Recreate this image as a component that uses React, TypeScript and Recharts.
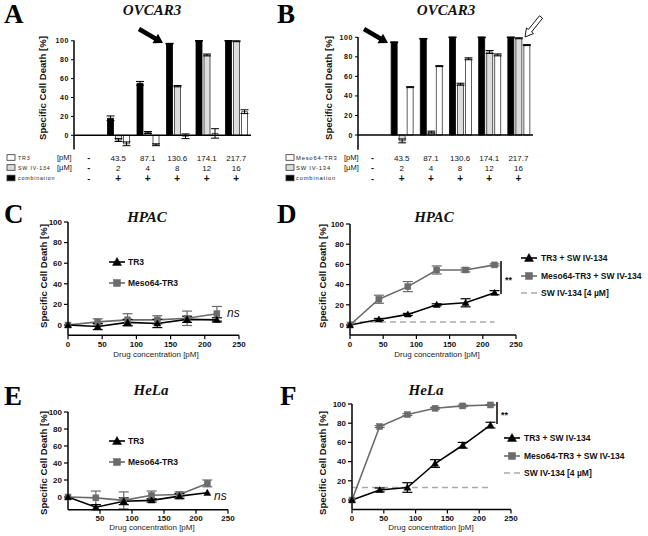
import React from 'react';
import { BarChart, Bar, LineChart, Line, XAxis, YAxis, ErrorBar, ReferenceLine } from 'recharts';

const SANS = '"Liberation Sans", Arial, Helvetica, sans-serif';
const SERIF = '"Liberation Serif", "Times New Roman", serif';

// ---- Panels A/B (bar charts) ----
const doseLabels = ['-', '43.5', '87.1', '130.6', '174.1', '217.7'];
const swDoseLabels = ['-', '2', '4', '8', '12', '16'];
const comboLabels = ['-', '+', '+', '+', '+', '+'];

const aCombination = [0, 18, 55, 97, 100, 100];
const aCombinationErr = [0, 2.5, 2, 0.3, 0.3, 0.3];
const aSW = [0, -5, 3, 52, 85, 99.5];
const aSWErr = [0, 1.5, 1, 0.7, 1, 0.5];
const aTR3 = [0, -9, -10, -1, 2, 25];
const aTR3Err = [0, 2, 1, 2.5, 5, 2];

const bCombination = [0, 95, 98.5, 100, 100, 100];
const bCombinationErr = [0, 0.3, 0.3, 0.3, 0.3, 0.3];
const bSW = [0, -6, 3, 52, 85, 99];
const bSWErr = [0, 2, 1, 1, 1.5, 0.5];
const bMeso = [0, 49, 70.5, 78, 82, 92];
const bMesoErr = [0, 0.5, 0.5, 1, 1, 0.5];

// ---- Panels C-F (line charts) ----
const conc = [0, 43.5, 87.1, 130.6, 174.1, 217.7];
const xTicksFull = [0, 50, 100, 150, 200, 250];
const xTicksNoZero = [50, 100, 150, 200, 250];
const yTicks = [0, 20, 40, 60, 80, 100];

const cTR3 = [0, -1.5, 2.5, 1.5, 5.5, 5];
const cTR3Err = [0, 3, 3, 4, 3, 2];
const cMeso = [0, 3, 5, 5, 6.5, 11];
const cMesoErr = [0, 3, 6, 4, 7, 7];

const dTR3SW = [0, 5.5, 10.5, 20, 22, 32];
const dTR3SWErr = [0, 1, 1, 1, 4, 2];
const dMesoSW = [0, 25.5, 38, 54.5, 54.5, 59.5];
const dMesoSWErr = [0, 4, 5, 4, 2, 1];
const dSWOnly = [3, 3, 3, 3, 3, 3];

const eTR3 = [0, -12, -5, -4, 1, 5];
const eTR3Err = [0, 3, 4, 2, 3, 0];
const eMeso = [0, -1, -4, 2, 3, 16];
const eMesoErr = [0, 8, 10, 5, 3, 4];

const fTR3SW = [0, 10.5, 13, 38, 57, 78];
const fTR3SWErr = [0, 2, 5, 4, 3, 3];
const fMesoSW = [0, 76.5, 89, 95.5, 98, 99];
const fMesoSWErr = [0, 1, 1, 1, 0.8, 0.5];
const fSWOnly = [13, 13, 13, 13, 13, 13];

const GREY = '#6b6b6b';

function tableTick(rows: number[], fs: number) {
  return (props: any) => {
    const { x, payload } = props;
    const i = doseLabels.indexOf(payload.value);
    const dashStyle = i === 0 ? { fontSize: 9, fontWeight: 'bold' as const } : { fontSize: fs, fontWeight: 'normal' as const };
    return (
      <g>
        <text x={x} y={rows[0]} textAnchor="middle" {...dashStyle} fill="#111" fontFamily={SANS}>{doseLabels[i]}</text>
        <text x={x} y={rows[1]} textAnchor="middle" {...dashStyle} fill="#111" fontFamily={SANS}>{swDoseLabels[i]}</text>
        <text x={x} y={rows[2]} textAnchor="middle" fontSize={i === 0 ? 9 : 10} fontWeight="bold" fill="#111" fontFamily={SANS}>{comboLabels[i]}</text>
      </g>
    );
  };
}

function BarPanel(p: any) {
  const data = doseLabels.map((d, i) => ({
    dose: d,
    comb: p.comb[i], combErr: p.combErr[i],
    sw: p.sw[i], swErr: p.swErr[i],
    single: p.single[i], singleErr: p.singleErr[i],
  }));
  return (
    <div style={{ position: 'absolute', left: p.left, top: 0 }}>
      <BarChart width={p.width} height={190} data={data}
        margin={{ top: p.plotTop, right: p.left + p.width - p.plotRight, bottom: 0, left: 0 }} barGap={2}>
        <XAxis dataKey="dose" height={190 - p.plotBottom} axisLine={false} tickLine={false}
          tick={tableTick(p.rows, p.fs)} interval={0} />
        <YAxis type="number" domain={[-15, 100]} ticks={yTicks} width={p.plotLeft - p.left}
          axisLine={{ stroke: '#000', strokeWidth: 1.5 }} tickLine={{ stroke: '#000', strokeWidth: 1 }} tickSize={3}
          tick={{ fontSize: 7, fontWeight: 'bold', fill: '#111', fontFamily: SANS, letterSpacing: 0.6 }} interval={0} />
        <Bar dataKey="comb" fill="#000" stroke="#000" strokeWidth={0.8} barSize={6} isAnimationActive={false}>
          <ErrorBar dataKey="combErr" width={4} stroke="#000" strokeWidth={1} />
        </Bar>
        <Bar dataKey="sw" fill="#dcdcdc" stroke="#333" strokeWidth={0.8} barSize={6} isAnimationActive={false}>
          <ErrorBar dataKey="swErr" width={4} stroke="#000" strokeWidth={1} />
        </Bar>
        <Bar dataKey="single" fill="#fff" stroke="#333" strokeWidth={0.8} barSize={6} isAnimationActive={false}>
          <ErrorBar dataKey="singleErr" width={4} stroke="#000" strokeWidth={1} />
        </Bar>
        <ReferenceLine y={0} stroke="#000" strokeWidth={1.5} />
      </BarChart>
    </div>
  );
}

const TriDot = ({ cx, cy, color, s = 3.5 }: any) => (
  cx == null || cy == null ? <g /> :
  <path d={`M${cx},${cy - s}L${cx + s},${cy + s * 0.75}L${cx - s},${cy + s * 0.75}Z`} fill={color} stroke={color} strokeWidth={0.5} />
);
const SqDot = ({ cx, cy, color, s = 3 }: any) => (
  cx == null || cy == null ? <g /> :
  <rect x={cx - s} y={cy - s} width={2 * s} height={2 * s} fill={color} stroke={color} strokeWidth={0.5} />
);

function LinePanel(p: any) {
  const data = conc.map((c, i) => {
    const row: any = { x: c };
    p.series.forEach((s: any) => {
      row[s.key] = s.values[i];
      if (s.errs) row[s.key + 'Err'] = s.errs[i];
    });
    return row;
  });
  const margin = { top: p.plot.top - p.box.top, right: p.box.left + p.box.width - p.plot.right, bottom: 0, left: 0 };
  return (
    <div style={{ position: 'absolute', left: p.box.left, top: p.box.top }}>
      <LineChart width={p.box.width} height={p.box.height} data={data} margin={margin}>
        <XAxis dataKey="x" type="number" domain={[0, 250]} ticks={p.xTicks} interval={0}
          height={p.box.top + p.box.height - p.plot.bottom}
          axisLine={{ stroke: '#000', strokeWidth: 1.5 }} tickLine={{ stroke: '#000', strokeWidth: 1.2 }} tickSize={4}
          tick={{ fontSize: 8, fontWeight: 'bold', fill: '#111', fontFamily: SANS }} />
        <YAxis type="number" domain={[p.yMin, 100]} ticks={yTicks} interval={0} width={p.plot.left - p.box.left}
          axisLine={{ stroke: '#000', strokeWidth: 1.5 }} tickLine={{ stroke: '#000', strokeWidth: 1.2 }} tickSize={4}
          tick={{ fontSize: 8, fontWeight: 'bold', fill: '#111', fontFamily: SANS }} />
        {p.series.map((s: any) => (
          <Line key={s.key} dataKey={s.key} type="linear" stroke={s.color} strokeWidth={1.6}
            strokeDasharray={s.dashed ? '6 4' : undefined} isAnimationActive={false}
            dot={s.marker === 'tri' ? (d: any) => <TriDot key={d.index} cx={d.cx} cy={d.cy} color={s.color} />
              : s.marker === 'sq' ? (d: any) => <SqDot key={d.index} cx={d.cx} cy={d.cy} color={s.color} />
              : false}
            activeDot={false}>
            {s.errs ? <ErrorBar dataKey={s.key + 'Err'} width={5} stroke={s.color} strokeWidth={1.2} direction="y" /> : null}
          </Line>
        ))}
      </LineChart>
    </div>
  );
}

function arrowPoints(tx: number, ty: number, px: number, py: number, sw: number, hw: number, hl: number) {
  const len = Math.hypot(px - tx, py - ty);
  const dx = (px - tx) / len, dy = (py - ty) / len;
  const nx = -dy, ny = dx;
  const hx = px - dx * hl, hy = py - dy * hl;
  const pts = [
    [tx + nx * sw, ty + ny * sw], [hx + nx * sw, hy + ny * sw], [hx + nx * hw, hy + ny * hw], [px, py],
    [hx - nx * hw, hy - ny * hw], [hx - nx * sw, hy - ny * sw], [tx - nx * sw, ty - ny * sw],
  ];
  return pts.map((q) => q.join(',')).join(' ');
}

const tTR3 = 'TR3';
const tMeso = 'Meso64-TR3';
const tTR3SW = 'TR3 + SW IV-134';
const tMesoSW = 'Meso64-TR3 + SW IV-134';
const tSW = 'SW IV-134 [4 µM]';

function LegendItem({ x, y, tx, label, kind }: any) {
  return (
    <g>
      {kind === 'dash' ? (
        <line x1={x - 8} x2={x + 8} y1={y} y2={y} stroke="#aaa" strokeWidth={1.6} strokeDasharray="6 4" />
      ) : (
        <line x1={x - 8} x2={x + 8} y1={y} y2={y} stroke={kind === 'tri' ? '#000' : GREY} strokeWidth={1.6} />
      )}
      {kind === 'tri' ? <TriDot cx={x} cy={y} color="#000" s={4.5} /> : null}
      {kind === 'sq' ? <SqDot cx={x} cy={y} color={GREY} s={3.5} /> : null}
      <text x={tx} y={y + 3} fontSize={8.5} fontWeight="bold" fill="#111" fontFamily={SANS}>{label}</text>
    </g>
  );
}

function RowLabels({ bx, tx, ux, names, fs }: any) {
  const ys = [157.5, 167.5, 178];
  const fills = ['#fff', '#dcdcdc', '#000'];
  const units = ['[pM]', '[µM]', ''];
  return (
    <g>
      {ys.map((y, i) => (
        <g key={i}>
          <rect x={bx} y={y - 2.8} width={8} height={5.6} fill={fills[i]} stroke="#333" strokeWidth={0.8} />
          <text x={tx} y={y + 2} fontSize={fs} letterSpacing={0.8} fill="#222" fontFamily={SANS}>{names[i]}</text>
          {units[i] ? <text x={ux} y={y + 2.6} fontSize={7.5} fill="#111" fontFamily={SANS}>{units[i]}</text> : null}
        </g>
      ))}
    </g>
  );
}

export default function App() {
  const yTitle = 'Specific Cell Death [%]';
  const xTitle = 'Drug concentration [pM]';
  return (
    <div style={{ position: 'absolute', left: 0, top: 0, width: 648, height: 536, background: '#fff', overflow: 'hidden' }}>
      <BarPanel left={0} width={260} plotLeft={74} plotRight={251} plotTop={40.5} plotBottom={149.5}
        comb={aCombination} combErr={aCombinationErr} sw={aSW} swErr={aSWErr} single={aTR3} singleErr={aTR3Err}
        rows={[160.5, 170.5, 181.5]} fs={8} />
      <BarPanel left={300} width={240} plotLeft={358} plotRight={533} plotTop={37} plotBottom={149.7}
        comb={bCombination} combErr={bCombinationErr} sw={bSW} swErr={bSWErr} single={bMeso} singleErr={bMesoErr}
        rows={[160.5, 170.5, 181.5]} fs={8} />

      <LinePanel box={{ left: 0, top: 190, width: 250, height: 170 }} plot={{ left: 68, right: 239, top: 222, bottom: 335.3 }}
        yMin={-10} xTicks={xTicksFull}
        series={[
          { key: 'meso', values: cMeso, errs: cMesoErr, color: GREY, marker: 'sq' },
          { key: 'tr3', values: cTR3, errs: cTR3Err, color: '#000', marker: 'tri' },
        ]} />
      <LinePanel box={{ left: 300, top: 190, width: 230, height: 170 }} plot={{ left: 350, right: 516, top: 224, bottom: 335.1 }}
        yMin={-10} xTicks={xTicksFull}
        series={[
          { key: 'sw', values: dSWOnly, color: '#aaa', marker: 'none', dashed: true },
          { key: 'meso', values: dMesoSW, errs: dMesoSWErr, color: GREY, marker: 'sq' },
          { key: 'tr3', values: dTR3SW, errs: dTR3SWErr, color: '#000', marker: 'tri' },
        ]} />
      <LinePanel box={{ left: 0, top: 360, width: 250, height: 176 }} plot={{ left: 68, right: 228, top: 412, bottom: 509.75 }}
        yMin={-15} xTicks={xTicksNoZero}
        series={[
          { key: 'meso', values: eMeso, errs: eMesoErr, color: GREY, marker: 'sq' },
          { key: 'tr3', values: eTR3, errs: eTR3Err, color: '#000', marker: 'tri' },
        ]} />
      <LinePanel box={{ left: 300, top: 360, width: 230, height: 176 }} plot={{ left: 352, right: 511, top: 404, bottom: 509.6 }}
        yMin={-10} xTicks={xTicksFull}
        series={[
          { key: 'sw', values: fSWOnly, color: '#aaa', marker: 'none', dashed: true },
          { key: 'meso', values: fMesoSW, errs: fMesoSWErr, color: GREY, marker: 'sq' },
          { key: 'tr3', values: fTR3SW, errs: fTR3SWErr, color: '#000', marker: 'tri' },
        ]} />

      <svg width={648} height={536} style={{ position: 'absolute', left: 0, top: 0, pointerEvents: 'none' }}>
        <g fontFamily={SERIF} fontWeight="bold" fontSize={27} fill="#000">
          <text x={4} y={23}>A</text>
          <text x={277} y={23}>B</text>
          <text x={4} y={223}>C</text>
          <text x={277} y={223}>D</text>
          <text x={4} y={405}>E</text>
          <text x={280} y={405}>F</text>
        </g>
        <g fontFamily={SERIF} fontWeight="bold" fontStyle="italic" fontSize={15} fill="#111" textAnchor="middle">
          <text x={152} y={15}>OVCAR3</text>
          <text x={446} y={15}>OVCAR3</text>
          <text x={147} y={222}>HPAC</text>
          <text x={434} y={222}>HPAC</text>
          <text x={151} y={395}>HeLa</text>
          <text x={426} y={395}>HeLa</text>
        </g>
        <g fontFamily={SANS} fontWeight="bold" fontSize={9.6} fill="#111" textAnchor="middle">
          <text transform="translate(46,88) rotate(-90)">{yTitle}</text>
          <text transform="translate(332,88) rotate(-90)">{yTitle}</text>
          <text transform="translate(47,276) rotate(-90)">{yTitle}</text>
          <text transform="translate(326,276) rotate(-90)">{yTitle}</text>
          <text transform="translate(47,463) rotate(-90)">{yTitle}</text>
          <text transform="translate(326,463) rotate(-90)">{yTitle}</text>
        </g>
        <g fontFamily={SANS} fontSize={8} fill="#222" textAnchor="middle">
          <text x={156} y={357}>{xTitle}</text>
          <text x={437} y={357}>{xTitle}</text>
          <text x={152} y={530}>{xTitle}</text>
          <text x={431} y={530}>{xTitle}</text>
        </g>
        <RowLabels bx={7} tx={18} ux={57} names={['TR3', 'SW IV-134', 'combination']} fs={5.3} />
        <RowLabels bx={286} tx={296} ux={344} names={['Meso64-TR3', 'SW IV-134', 'combination']} fs={5.8} />
        <polygon points={arrowPoints(139, 29, 163, 43, 2.3, 5.5, 9)} fill="#000" />
        <polygon points={arrowPoints(364, 29, 388, 43, 2.3, 5.5, 9)} fill="#000" />
        <polygon points={arrowPoints(541, 17, 525, 37, 2, 4.5, 8)} fill="#fff" stroke="#000" strokeWidth={0.9} />
        <LegendItem x={117} y={262} tx={128} label={tTR3} kind="tri" />
        <LegendItem x={117} y={283} tx={128} label={tMeso} kind="sq" />
        <LegendItem x={529} y={258} tx={541} label={tTR3SW} kind="tri" />
        <LegendItem x={529} y={276} tx={541} label={tMesoSW} kind="sq" />
        <LegendItem x={529} y={293} tx={541} label={tSW} kind="dash" />
        <LegendItem x={117} y={441} tx={128} label={tTR3} kind="tri" />
        <LegendItem x={117} y={462} tx={128} label={tMeso} kind="sq" />
        <LegendItem x={512} y={438} tx={524} label={tTR3SW} kind="tri" />
        <LegendItem x={512} y={456} tx={524} label={tMesoSW} kind="sq" />
        <LegendItem x={512} y={473} tx={524} label={tSW} kind="dash" />
        <g fontFamily={SANS} fill="#111">
          <text x={227} y={317} fontSize={12} fontStyle="italic">ns</text>
          <text x={214} y={500} fontSize={12} fontStyle="italic">ns</text>
          <line x1={501} x2={501} y1={261} y2={294} stroke="#000" strokeWidth={1.5} />
          <text x={505} y={283} fontSize={9} fontWeight="bold">**</text>
          <line x1={497} x2={497} y1={402} y2={424} stroke="#000" strokeWidth={1.5} />
          <text x={501} y={418} fontSize={9} fontWeight="bold">**</text>
        </g>
      </svg>
    </div>
  );
}
